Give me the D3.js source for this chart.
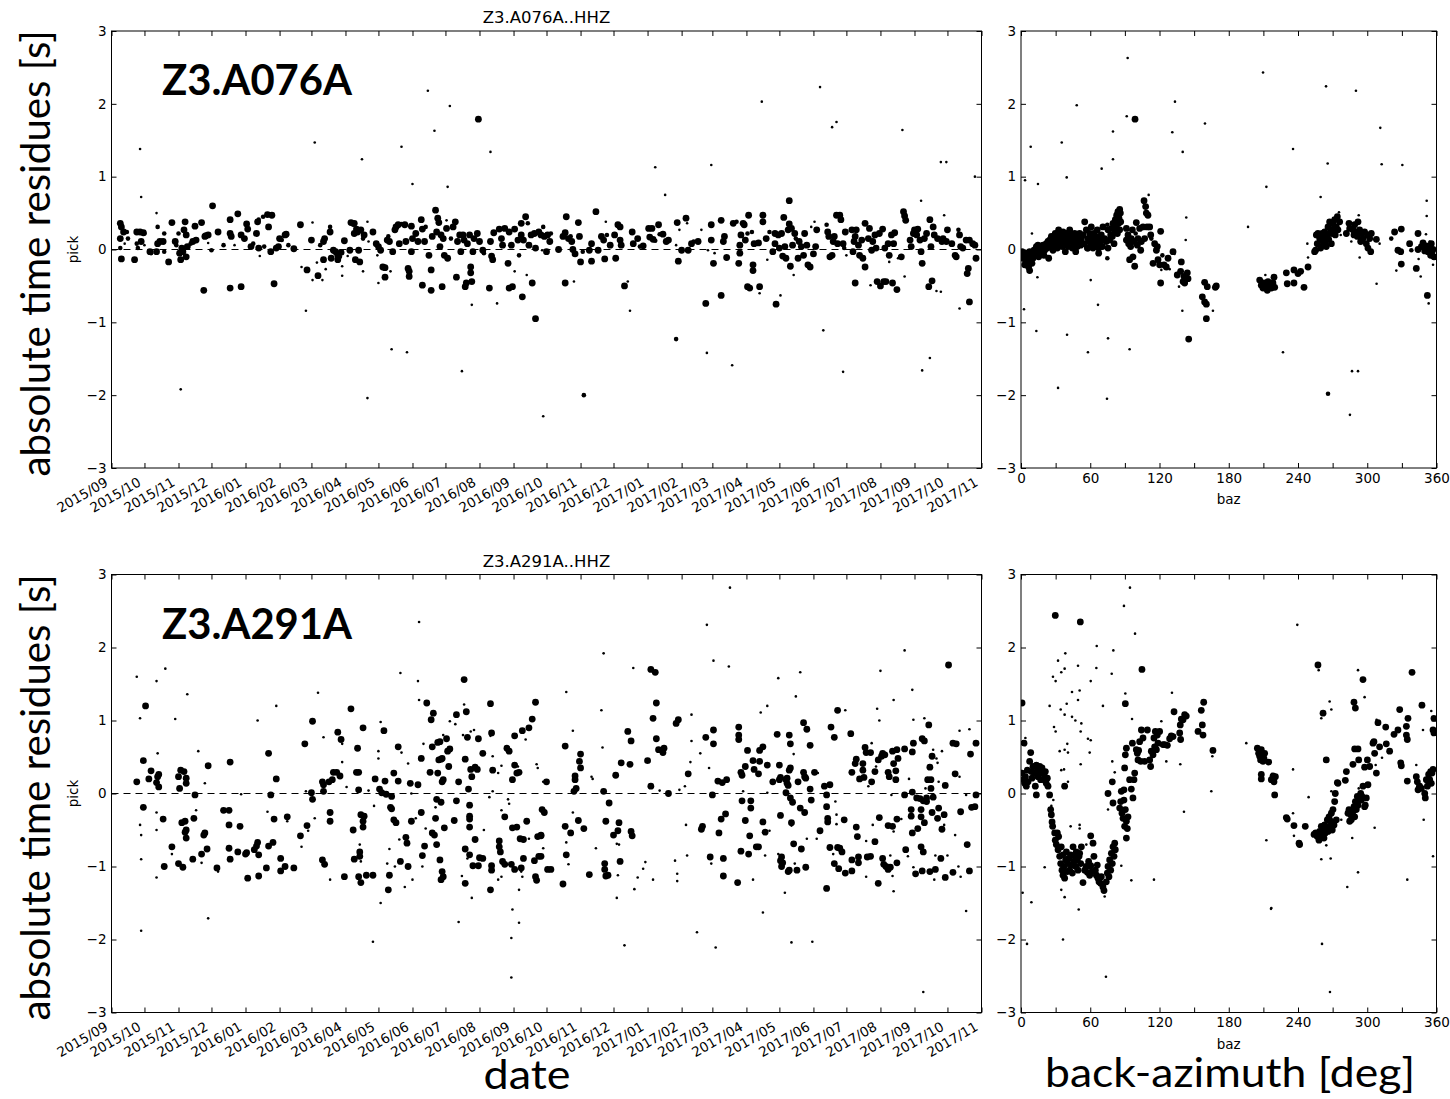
<!DOCTYPE html>
<html lang="en">
<head>
<meta charset="UTF-8" />
<title>pick residues Z3.A076A / Z3.A291A</title>
<style>
  body { margin: 0; background: #fff; }
  #container { width: 1450px; height: 1099px; }
</style>
</head>
<body>
<div id="container"></div>
<script src="https://cdnjs.cloudflare.com/ajax/libs/d3/7.8.5/d3.min.js"></script>
<script>
// ---- data ----
const stations = ["Z3.A076A", "Z3.A291A"];
const channels = ["Z3.A076A..HHZ", "Z3.A291A..HHZ"];
const startDay = "2015-09-01", endDay = "2017-11-01";
const resTicks = [-3, -2, -1, 0, 1, 2, 3];
const bazTicks = [0, 30, 60, 90, 120, 150, 180, 210, 240, 270, 300, 330, 360];

// [days since startDay, residue (s), marker class 1..3]
const a076Date = [
[8,.36,3],[9,.31,3],[11,.24,3],[14,.24,2],[8,.15,3],[8,.02,2],[9,-.13,3],[12,.08,1],[15,.15,2],[21,-.14,3],[23,.24,3],[23,.08,2],[24,.02,2],[26,.24,3],[27,.72,1],[27,.11,3],[29,.23,3],[30,.22,2],[30,.06,1],[35,-.03,3],[36,-.05,2],[41,.5,1],[42,.31,2],[42,.08,3],[41,-.03,3],[44,.11,3],[47,.11,3],[48,.22,2],[48,-.03,2],[52,-.17,3],[55,.37,3],[58,.11,3],[59,.06,2],[61,.22,2],[62,-.05,3],[63,-.14,3],[64,.02,3],[65,-.03,3],[66,.27,3],[67,.38,3],[68,.2,3],[68,-.1,3],[69,.04,3],[72,.08,2],[74,.11,3],[76,.32,3],[77,.13,3],[82,.37,3],[84,-.56,3],[85,.18,3],[86,.19,3],[88,.2,3],[88,.09,1],[91,-.01,2],[92,.6,3],[97,.24,3],[102,.06,2],[108,.41,3],[108,.22,3],[109,.18,3],[108,-.53,3],[112,.06,1],[115,.49,3],[118,.2,3],[118,-.51,3],[121,.15,3],[123,.35,3],[124,.28,3],[127,.04,3],[129,.08,2],[132,.22,3],[133,.38,3],[134,.41,2],[134,.02,3],[135,-.09,1],[138,.45,2],[139,.04,2],[142,.48,3],[143,.31,3],[145,-.03,3],[146,.47,3],[148,-.47,3],[150,.02,3],[152,.04,3],[153,.15,3],[155,.13,2],[158,.2,3],[159,.21,3],[161,.06,2],[166,.01,3],[172,.34,3],[173,-.24,1],[177,-.84,1],[178,-.28,3],[182,.13,3],[183,.37,1],[183,-.42,1],[187,-.18,1],[188,-.36,3],[192,-.42,1],[190,.06,2],[193,.11,3],[193,-.14,3],[194,.15,3],[195,-.27,1],[199,.24,3],[199,.31,2],[200,-.12,3],[202,-.01,3],[204,-.03,3],[206,-.08,3],[206,-.14,3],[208,-.1,2],[209,-.04,3],[210,-.23,1],[210,-.36,1],[212,.12,3],[215,-.09,1],[217,-.01,3],[218,.37,3],[220,.34,2],[221,.36,3],[221,.22,3],[222,-.14,3],[223,.28,3],[224,.24,3],[225,-.01,3],[226,-.17,3],[227,.27,3],[229,.15,2],[229,-.3,1],[230,.2,3],[233,.38,1],[234,.11,1],[238,.24,3],[241,.08,3],[242,-.08,1],[243,.04,3],[243,-.46,1],[245,-.01,3],[247,-.24,3],[249,-.25,3],[249,-.38,3],[251,.13,3],[252,.18,2],[253,.11,3],[254,-.3,1],[256,-.03,3],[258,.27,3],[259,.31,3],[261,.34,3],[262,.08,3],[264,.35,2],[267,.34,3],[268,.11,3],[270,-.26,3],[271,-.3,3],[271,-.37,3],[273,-.03,3],[273,.32,3],[274,.9,1],[274,.15,3],[277,.22,3],[279,.11,3],[282,.41,3],[283,.28,3],[283,-.49,3],[285,.11,3],[286,.31,2],[289,-.08,3],[291,-.28,3],[291,-.56,3],[292,.18,3],[295,.54,3],[296,.24,3],[297,.43,3],[298,.37,3],[299,.04,3],[300,.2,3],[302,.15,3],[301,-.51,3],[303,-.08,3],[305,.4,1],[305,.29,3],[306,.86,1],[306,-.12,3],[309,.15,2],[311,.31,3],[313,.38,3],[314,-.38,3],[315,.11,3],[317,.2,3],[318,-.03,3],[320,.2,3],[321,.13,3],[322,-.51,3],[323,-.46,3],[324,.08,3],[326,.2,3],[327,-.32,3],[327,-.24,3],[328,-.44,3],[328,-.76,1],[329,-.03,3],[330,.15,3],[333,.22,3],[335,.11,3],[338,-.01,3],[339,-.05,2],[344,-.53,3],[345,.11,3],[346,-.09,3],[347,-.14,3],[348,.23,3],[351,-.74,1],[353,.28,3],[355,.15,3],[356,.06,3],[358,.29,3],[361,-.19,3],[362,.24,3],[362,-.53,3],[364,.06,3],[365,-.51,3],[367,.28,3],[367,-.3,1],[370,.13,3],[371,-.08,2],[373,.2,3],[373,.36,3],[374,-.65,3],[375,.13,3],[377,.45,3],[378,-.35,1],[379,.36,2],[380,.06,3],[382,.2,3],[383,-.46,3],[385,.22,3],[386,-.95,3],[386,.02,3],[389,.24,3],[391,.2,3],[392,-.01,1],
[393,.31,2],[394,.18,3],[397,.2,3],[399,.11,3],[400,.22,2],[396,-.03,3],[407,0,3],[411,.18,3],[413,.23,3],[414,.45,3],[413,-.46,3],[416,.15,3],[419,.11,3],[418,.18,2],[420,0,3],[422,-.06,3],[421,-.44,1],[425,.37,3],[426,.18,3],[427,-.17,3],[429,-.03,2],[435,-.01,3],[437,.08,3],[437,-.16,3],[441,.52,3],[443,-.01,3],[446,.18,3],[448,.13,3],[449,-.13,3],[450,.38,1],[451,.2,2],[454,.06,3],[458,.2,3],[459,-.12,3],[461,.34,3],[463,.31,3],[463,.13,3],[464,.06,3],[467,-.5,3],[470,-.44,1],[472,-.84,1],[474,.24,3],[475,.08,3],[479,.15,3],[481,.04,2],[484,.05,3],[489,.29,3],[490,.17,3],[492,.29,3],[493,.14,3],[495,.12,2],[498,.34,3],[499,.21,2],[502,.21,3],[504,.75,1],[505,.11,3],[507,.13,3],[514,.06,1],[515,.37,3],[516,-.16,3],[517,.27,1],[519,-.01,3],[523,.43,3],[524,.36,1],[525,-.01,3],[528,.08,3],[530,.11,2],[534,.11,3],[537,.27,1],[541,-.74,3],[543,-.01,1],[546,.34,3],[546,.13,3],[548,-.19,3],[549,-.05,1],[555,.4,3],[555,-.63,3],[557,.11,3],[558,.18,3],[560,-.11,3],[566,.36,3],[569,.38,2],[571,-.19,3],[572,-.05,3],[572,.06,3],[573,.2,3],[575,.36,3],[576,.34,3],[577,.13,3],[579,.22,2],[579,-.51,3],[580,.47,3],[581,-.53,3],[583,.24,2],[584,-.21,3],[584,-.29,3],[585,.08,3],[589,.09,3],[590,-.6,1],[590,-.51,3],[593,.47,3],[593,.38,3],[596,.15,3],[597,-.14,1],[599,.24,2],[602,-.03,3],[604,.22,3],[604,.08,3],[605,-.75,3],[607,.2,3],[608,.02,3],[609,-.63,1],[610,.22,3],[611,-.09,3],[612,.44,3],[613,.04,3],[614,-.12,3],[616,.27,3],[617,.35,3],[617,.67,3],[618,-.23,3],[619,.29,3],[620,.06,3],[621,-.35,1],[622,.22,3],[623,.15,2],[625,-.12,3],[626,.11,3],[628,.04,3],[630,-.08,3],[631,.22,3],[633,.06,3],[634,-.21,3],[636,-.24,3],[637,.31,1],[639,-.06,3],[640,.38,1],[641,.04,3],[642,.27,3],[651,.34,2],[652,.24,3],[653,.18,3],[654,-.1,3],[656,-.08,3],[657,.11,3],[658,.18,3],[660,.47,3],[661,.08,3],[663,.47,3],[664,.41,3],[666,.08,3],[667,.02,2],[668,.24,3],[669,-.08,1],[674,.27,3],[675,-.03,3],[676,.11,3],[677,.18,3],[677,-.46,3],[678,.27,3],[680,.06,3],[681,-.08,3],[683,.13,3],[684,-.12,3],[686,.36,3],[686,-.24,3],[689,.15,3],[690,.29,3],[691,-.49,1],[692,-.01,3],[693,.11,3],[695,.2,3],[696,.02,3],[697,-.44,3],[699,.22,3],[700,-.5,3],[702,.28,3],[703,-.44,3],[704,.02,3],[705,-.44,3],[707,.08,3],[708,-.08,3],[708,-.17,1],[710,.2,3],[711,-.46,3],[712,.08,3],[713,.23,3],[715,-.55,3],[716,-.12,1],[719,-.1,3],[721,.52,3],[722,.46,3],[723,.4,3],[722,-.37,1],[727,.13,3],[728,.04,3],[730,.22,3],[731,.27,3],[733,.2,3],[734,.28,3],[736,.13,3],[737,.67,1],[737,-.03,3],[738,-.19,3],[740,.15,3],[742,.22,3],[744,-.51,3],[745,.41,3],[746,.04,3],[747,-.43,3],[748,.31,3],[749,.2,3],[751,-.57,1],[752,.15,3],[755,-.58,1],[756,.11,3],[757,.15,3],[758,.47,1],[760,.11,3],[761,.27,3],[765,.08,3],[768,-.08,3],[769,-.1,3],[771,.27,2],[772,.2,3],[772,-.81,1],[773,.04,3],[775,.02,3],[778,.13,3],[779,-.33,3],[780,-.26,3],[781,-.72,3],[781,.13,3],[784,.08,3],[786,.06,3],[787,-.12,3],
[26,1.38,1],[185,1.47,1],[228,1.24,1],[264,1.41,1],[288,2.18,1],[294,1.63,1],[308,1.97,1],[334,1.79,3],[345,1.34,1],[63,-1.92,1],[233,-2.04,1],[393,-2.29,1],[430,-2,2],[255,-1.37,1],[269,-1.41,1],[319,-1.67,1],[514,-1.23,2],[542,-1.42,1],[565,-1.59,1],[648,-1.11,1],[666,-1.68,1],[738,-1.66,1],[745,-1.49,1],[495,1.13,1],[546,1.16,1],[592,2.03,1],[656,1.68,1],[660,1.75,1],[645,2.23,1],[720,1.64,1],[755,1.2,1],[760,1.2,1],[786,1,1]
];

// [back-azimuth (deg), residue (s), marker class]
const a076Baz = [
[0.9,-.03,3],[1.7,-.12,3],[2.6,-.08,3],[3.2,-.21,3],[3.8,-.14,3],[4.6,-.05,3],[5.5,-.17,3],[6.1,-.1,3],[6.6,-.24,3],[7.5,-.03,3],[7.5,-.29,3],[8.4,-.14,3],[9,-.08,3],[9.5,-.19,3],[10.4,-.12,3],[11.3,-.01,3],[11.8,-.09,3],[13.3,.04,3],[14.2,-.03,3],[14.7,.06,3],[15.3,-.1,3],[16.2,-.01,3],[17,.04,3],[17.6,-.04,3],[18.2,.02,2],[19.1,.06,3],[19.9,-.08,3],[20.5,-.01,3],[21.9,.08,3],[22.8,.02,3],[23.4,.11,3],[24,-.12,3],[24.8,.13,3],[25.7,.04,3],[26.3,.18,3],[27.1,.08,3],[27.7,-.01,3],[28.6,.15,3],[29.2,.06,3],[29.7,.22,3],[30.6,.11,3],[31.5,.02,3],[32.1,.18,3],[32.6,.27,3],[33.5,.08,3],[34.4,.2,3],[34.9,.13,3],[35.8,.04,3],[36.4,.24,3],[37.3,.15,3],[37.8,.08,3],[38.4,-.03,3],[39.3,.22,3],[40.1,.13,3],[40.7,.04,3],[41.3,.18,3],[42.2,.27,3],[43,.11,3],[43.6,.2,3],[44.5,.02,3],[45.1,.15,3],[45.9,.08,3],[46.5,.22,3],[47.4,-.03,3],[47.9,.13,3],[48.8,.04,3],[49.4,.18,3],[50.3,.11,3],[50.8,.22,3],[51.7,.06,3],[52.3,.15,3],[53.7,.2,3],[54.6,.08,3],[55.2,.38,3],[56.6,.27,3],[57.5,.02,3],[58,.15,3],[58.9,.11,3],[59.5,.22,3],[60.4,.06,3],[60.9,.31,3],[61.5,.15,3],[62.4,.11,3],[63.2,.22,3],[63.8,.04,3],[64.7,.18,3],[65.3,.13,3],[66.1,.27,3],[66.7,.08,3],[67.3,-.05,3],[68.2,.18,3],[69,.11,3],[69.6,.2,3],[70.5,.04,3],[71,.31,3],[71.9,.13,3],[72.5,.15,3],[73.9,.11,3],[74.8,.34,2],[74.8,-.12,2],[75.4,.27,3],[76.8,.13,3],[77.7,.2,3],[78.3,.29,3],[79.1,.18,3],[79.7,.36,3],[80.6,.08,3],[81.2,.24,3],[81.7,.41,3],[82.6,.31,3],[82.9,.47,3],[83.5,.22,3],[84,.52,3],[84.6,.36,3],[84.9,.43,3],[85.5,.55,3],[85.5,.27,3],[86.1,.5,3],[86.4,.38,3],[75.4,.02,3],[67.3,.02,3],[62.4,.02,3],[58,.02,3],
[91.3,.29,3],[91.3,.13,3],[92.7,.2,3],[93.3,.08,3],[94.1,-.14,3],[95,.04,3],[95.6,.15,3],[96.5,.27,3],[97,-.1,3],[97.9,.11,3],[98.5,-.23,3],[99.3,.22,2],[99.9,.37,3],[100.8,.06,3],[101.4,.15,3],[102.8,.29,3],[103.7,-.01,3],[104.3,.11,3],[105.7,.31,3],[106.6,.67,3],[107.1,.15,3],[108,.59,3],[108.6,.5,3],[109.2,.31,3],[110,.47,3],[110.6,.75,1],[111.5,.31,3],[112.4,.2,3],[112.9,.15,2],[114.4,-.19,3],[115.8,.08,3],[117.3,-.01,3],[118.1,.04,3],[118.7,-.14,3],[120.1,-.21,3],[121,-.46,3],[121,.25,3],[121.6,-.28,1],[122.5,-.08,2],[123.9,-.21,3],[125.9,-.24,3],[127.4,-.12,3],[128.8,-.27,1],[131.7,-.03,3],[133.1,-.06,1],[135.4,-.35,3],[136.9,-.51,1],[138.3,-.3,3],[138.9,-.17,3],[139.8,-.84,1],[140.4,-.44,3],[141.2,-.37,3],[141.8,-.46,3],[142.7,.13,1],[143.2,.44,1],[144.1,-.32,3],[144.7,-.4,3],[145.3,-1.23,3],[157.1,-.65,3],[159.1,-.45,3],[159.1,-.72,3],[160.6,-.75,3],[160.6,-.95,3],[161.4,-.51,3],[166.3,-.84,1],[168.4,-.52,3],[169.2,-.5,3],
[14.7,.9,1],[9.5,.22,1],[14.2,-.38,1],[60.4,-.42,1],[66.7,-.76,1],[2.6,-.82,1],[13.3,-1.12,1],[39.9,-1.17,1],[75.4,-1.22,1],[94.1,-1.37,1],[196.7,.31,1],[212.6,.86,1],[259.6,.72,1],[351.5,.67,1],[351.5,.46,1],[350.9,.21,1],[308.1,-.47,1],[293.4,-.11,1],[303.5,-.05,1],
[206.8,-.42,3],[208.2,-.49,3],[209.7,-.53,3],[210.5,-.46,3],[211.7,-.35,1],[212.6,-.5,3],[213.4,-.56,3],[214,-.44,3],[215.4,-.51,3],[216.9,-.53,3],[218.3,-.46,3],[219.2,-.38,3],[219.8,-.52,3],[229.9,-.32,3],[230.7,-.47,3],[236.5,-.28,3],[236.5,-.46,3],[240,-.33,3],[242.3,-.3,3],[245.2,-.52,3],[248.7,-.24,3],[248.7,-.11,1],[248.1,.08,1],[254.4,-.03,3],[255.3,-.01,3],[255.9,.2,3],[256.7,.08,3],[257.3,.22,3],[258.8,.15,3],[259.6,.02,3],[260.2,.13,3],[261.1,.22,3],[261.7,.06,3],[262.5,.18,3],[263.1,.24,3],[263.7,.11,3],[264.5,.04,3],[265.4,.2,3],[266,.31,3],[266.6,.14,3],[267.4,.38,3],[268.3,.27,3],[268.9,.08,3],[269.5,.22,3],[270.3,.36,3],[271.2,.29,3],[271.8,.41,3],[272.3,.2,3],[273.2,.31,3],[274.1,.45,3],[274.6,.27,3],[275.5,.51,1],[276.1,.38,3],[277,.2,1],
[281.9,.22,3],[283.3,.27,1],[284.2,.36,3],[284.8,.29,3],[286.2,.11,1],[287.6,.27,3],[288.5,.2,3],[289.1,.34,3],[290.5,.24,3],[291.4,.18,3],[292,.38,3],[292.6,.47,1],[293.4,.27,3],[294.3,.11,3],[294.9,.22,3],[296.3,.15,3],[297.7,.24,3],[299.2,.08,3],[300.1,.2,3],[300.6,.02,3],[302.1,.15,3],[303,-.03,3],[303.5,.22,3],[307.9,.14,3],[310.7,.08,1],
[320.8,.15,2],[323.7,.24,3],[329.5,.28,3],[326.6,-.01,3],[325.2,-.29,1],[329,-.03,3],[329.5,-.2,3],[336.7,.08,3],[338.2,-.01,2],[342.5,-.26,3],[344,.22,3],[344,0,3],[344.5,-.13,1],[346.3,-.37,1],[346.9,.04,3],[348.3,.09,3],[349.8,-.02,3],[351.2,.05,3],[352.1,-.63,3],[353.2,-.74,1],[352.6,-.03,3],[354.1,.02,3],[354.9,-.08,3],[355.5,.08,3],[356.1,-.04,3],[357,0,3],[357.8,-.1,3],[357,-.21,1],[354.1,.11,1],
[8.4,1.41,1],[35.3,1.47,1],[39.6,.99,1],[48.3,1.98,1],[69.9,1.11,1],[79.7,1.62,1],[79.7,1.24,1],[92.4,2.63,1],[91.6,1.83,1],[98.8,1.79,3],[131.1,1.61,1],[133.4,2.03,1],[140.1,1.34,1],[159.4,1.73,1],[209.7,2.43,1],[235.7,1.38,1],[264.3,2.24,1],[265.7,1.18,1],[290.2,2.18,1],[311.3,1.67,1],[312.5,1.17,1],[330.4,1.16,1],[3.5,.95,1],
[32.1,-1.9,1],[74.5,-2.05,1],[58,-1.41,1],[227,-1.41,1],[266,-1.98,2],[286.8,-1.67,1],[292,-1.67,1],[285,-2.27,1]
];

const a291Date = [
[23,.16,3],[23,1.6,1],[26,1.03,1],[27,-1.88,1],[27,-.57,1],[26,-.43,1],[27,-.9,1],[29,-.19,3],[29,.45,3],[31,1.2,3],[34,.2,3],[36,.31,3],[41,1.54,1],[41,.15,3],[42,.23,3],[43,.09,3],[43,.26,3],[42,.55,1],[41,-.26,1],[41,-.5,1],[41,-1.15,1],[47,-.35,3],[48,-1,3],[49,1.71,1],[55,-.73,3],[55,-.83,1],[58,1.02,1],[61,-.96,3],[61,.23,3],[62,.07,3],[63,.32,3],[64,-.4,3],[65,-1.01,3],[66,.3,3],[67,-.38,3],[68,-.5,3],[68,.21,3],[68,.14,3],[68,-.61,3],[69,1.36,1],[67,-.53,3],[74,-.9,3],[75,-.34,3],[76,-.02,3],[77,-.23,1],[79,.58,1],[82,-.83,3],[82,-.95,1],[84,-.57,3],[85,-.54,3],[85,.14,1],[87,-.76,3],[88,.38,3],[88,-1.71,1],[96,-1.02,3],[97,-1.07,1],[102,-.23,3],[107,-.23,3],[107,-.43,3],[108,.43,3],[107,-.75,3],[108,-.9,3],[115,-.8,3],[117,-.45,3],[118,-.01,1],[122,-.83,3],[123,-.81,3],[124,-1.16,3],[130,-.77,3],[132,-.72,3],[133,-.67,3],[134,-.84,3],[134,-1.13,3],[133,1,1],[141,-1.02,3],[142,-.25,1],[143,.55,3],[143,-.72,3],[145,-.02,3],[147,-.67,3],[148,-.35,3],[150,1.2,1],[150,.2,3],[154,-.89,3],[154,-1.06,3],[158,-1,3],[160,-.32,3],[160,-.38,1],[166,-1.02,3],[172,-.58,3],[173,-.73,1],[176,.68,3],[177,.03,1],[178,-.44,3],[179,-.51,1],[182,.01,3],[183,-.08,3],[183,.99,3],[185,-.34,1],[188,1.38,1],[192,.16,3],[193,.12,3],[193,.03,3],[193,.77,1],[192,-.91,3],[194,-.97,3],[198,.16,3],[199,-.26,3],[199,-.38,3],[199,-1.18,1],[201,.19,3],[202,.29,3],[206,.84,3],[205,.29,3],[208,.24,3],[209,.74,3],[210,.68,1],[210,.43,1],[212,-1.14,3],[214,.09,1],[218,1.16,3],[220,-.5,3],[221,-.9,3],[221,-.5,1],[223,.29,3],[224,.62,3],[225,.29,3],[225,.05,3],[226,-.7,1],[226,-.8,3],[226,-.86,3],[225,-1.14,3],[227,-.93,1],[227,-1.22,3],[227,-.29,3],[229,-.38,3],[230,-.31,3],[229,-.46,3],[229,.9,3],[232,-1.12,3],[234,.04,1],[238,-1.12,3],[238,-2.03,1],[239,-.17,1],[240,.2,3],[243,.58,1],[243,.48,1],[244,.06,3],[245,.98,1],[246,.01,3],[248,.86,3],[249,.17,3],[250,-.01,3],[253,-.76,1],[251,-.96,1],[253,-1.12,3],[252,-1.32,3],[245,-1.5,1],[254,-.19,3],[255,-.21,3],[255,-.04,3],[257,.28,3],[257,-.36,3],[259,-.4,3],[258,-1,1],[261,.17,3],[261,.64,3],[262,-.63,1],[263,-.93,3],[263,1.65,1],[264,.56,1],[267,-1.28,1],[268,-.6,3],[269,-.68,3],[270,.41,1],[270,-1,3],[272,.14,3],[273,0,1],[273,-.38,3],[274,-1.18,1],[277,-.34,1],[279,.12,3],[279,1.54,1],[280,1.28,1],[280,2.35,1],[282,.48,3],[282,-.26,3],[283,-1,1],[283,-.85,3],[284,.68,1],[285,-.72,3],[287,1.24,3],[286,-.48,1],[290,.29,3],[291,1.01,3],[292,.64,3],[293,1.1,3],[292,-.54,3],[294,-.57,3],[295,-.34,3],[295,-.19,1],[296,-.7,3],[296,-.08,3],[297,.28,3],[297,.7,3],[298,.46,3],[299,-.91,3],[299,.71,3],[301,.16,3],[301,-1.07,3],[302,.19,3],[302,.8,1],[302,-1.14,3],[300,-1.18,3],[300,-.12,3],[300,.47,3],[301,.48,3],[303,-.47,3],[305,.75,3],[306,.58,3],[307,.37,3],[308,.61,3],[308,.99,1],[312,-.37,3],[313,.95,1],[314,1.08,3],[314,-.1,3],[316,.16,3],[316,-1.76,1],[319,-1.13,1],[320,.8,1],[321,1.22,1],[321,1.56,3],[322,.47,3],[322,-.76,3],[322,-1.23,3],[323,1.12,3],[324,.77,3],[324,-.89,1],[325,.06,3],[326,-.16,3],[326,-.31,3],[326,-.35,3],[326,-.46,3],[326,-.84,3],[327,.33,3],[327,.85,1],[328,.23,3],[329,-.99,3],[328,-1.43,1],[330,.87,1],[331,-.63,3],[331,.36,3],[333,.33,3],[334,.75,3],[334,-.99,3],[335,-.88,3],[338,-.89,3],[338,.55,3],[339,-.5,1],[344,-.05,1],[345,1.23,3],[345,.79,1],[346,.83,3],[346,-.99,3],[345,-1.32,3],[346,-1.05,3],[347,.32,3],[347,.03,1],[347,.51,1],[352,.28,1],[352,-1.18,1],[353,-.65,3],[353,-.73,3],[354,-.8,3],[355,-.23,1],[355,.38,1],[355,-1.14,1],[356,-.93,3],[358,-.32,3],[358,-.97,3],[360,.62,3],[361,-.08,1],[362,.58,3],[362,-.14,1],[364,-.97,3],[365,-.47,3],[365,.19,3],[365,-1.59,1],[364,-1.98,1],[364,-2.52,1],[367,.79,3],[367,.39,3],[367,-1.04,3],[369,-.46,3],[369,.28,3],[370,.37,1],[371,.29,3],[371,-1.77,1],[371,-1.32,1],[372,-.62,3],[373,-1.02,3],[373,-1.07,1],[374,-1.14,1],[374,.86,3],[375,-.63,3],[375,-.89,3],[377,.74,1],[378,-.38,3],[380,.9,3],[380,-.62,1],[383,1.02,3],[385,-.92,3],[386,1.25,3],[386,-1.14,3],[387,-1.19,3],[387,.4,1],[388,.35,1],[388,-.59,3],[389,-.86,3],[392,-.22,3],[393,.16,1],[391,-.57,3],
[396,.16,3],[394,-.26,3],[391,-.58,3],[391,-.86,3],[393,-.75,1],[393,-.21,1],[397,-1.04,3],[400,-1.04,3],[411,-1.24,3],[413,.65,3],[413,-.45,3],[414,1.39,1],[414,-.67,1],[414,-.84,3],[416,-.97,1],[418,-.54,3],[420,.86,1],[420,-.26,1],[421,.03,3],[422,.24,3],[422,.19,3],[423,.07,3],[425,-.37,3],[426,.44,3],[427,.35,3],[427,.54,3],[430,-.48,3],[435,-1.11,3],[437,.23,1],[438,.2,1],[441,-.75,1],[446,1.14,1],[447,.63,1],[448,1.92,1],[448,.03,3],[449,-.96,3],[449,-1.04,3],[450,-1.13,3],[450,-.38,3],[452,-1.12,3],[453,-.13,3],[457,-.57,3],[459,.25,3],[460,-1.43,1],[460,-.69,1],[461,-1.12,1],[461,-.51,3],[462,-.4,3],[462,-.7,1],[463,-.93,3],[464,.42,3],[467,-2.08,1],[470,.85,3],[473,.72,3],[473,-.52,3],[474,-.58,3],[472,.4,3],[475,1.72,1],[476,-1.31,1],[479,-1.15,1],[484,-1.03,1],[486,-.94,1],[488,.45,3],[491,.1,3],[491,1.7,3],[493,-1.18,1],[493,1.03,3],[495,1.66,3],[496,1.24,3],[496,.75,3],[498,.6,3],[499,.04,1],[502,.56,3],[503,.62,3],[507,0,3],[513,-.92,1],[514,.96,3],[515,-1.1,1],[515,-1.2,1],[516,1.01,3],[517,.05,1],[522,.1,1],[523,-.43,1],[524,-.85,1],[525,.27,3],[527,.43,1],[528,.72,1],[528,1.08,1],[533,-1.9,1],[536,.55,1],[537,-.49,3],[538,-.45,3],[541,.77,3],[542,2.31,1],[544,.35,1],[545,-.87,3],[546,-.96,1],[547,-.02,3],[548,.87,3],[548,.68,3],[548,1.82,1],[550,-2.11,1],[552,.17,3],[553,-.54,3],[555,-.35,3],[556,.15,3],[557,-1.13,3],[557,-.89,3],[559,-.28,3],[560,.19,3],[562,1.74,1],[563,2.82,1],[570,-1.22,3],[571,.74,3],[571,.8,3],[571,.91,3],[573,-.79,3],[573,.29,3],[574,.25,3],[575,.03,1],[574,-.1,3],[577,.37,3],[577,-.37,3],[579,.59,3],[580,-.83,3],[581,-.58,3],[582,-.1,3],[582,-.2,3],[584,.45,3],[584,-1.18,1],[585,.33,3],[587,-.73,3],[589,-.73,3],[589,.27,3],[590,.59,3],[590,.44,3],[591,1.11,1],[593,.64,3],[593,-.39,3],[593,-1.63,1],[595,-.85,1],[595,-.53,3],[597,.39,3],[597,1.2,1],[597,.01,1],[599,-.51,1],[602,.16,3],[606,.81,3],[607,1.58,1],[607,-.83,1],[608,.39,3],[608,.19,3],[609,.22,3],[609,-.3,3],[609,-.92,3],[610,-1,3],[610,-.87,3],[611,-.95,3],[613,-1.36,1],[614,.01,3],[614,.19,3],[615,.14,3],[615,.21,3],[616,.11,3],[616,-1.07,3],[617,.8,3],[617,.32,3],[617,-1.05,3],[618,.68,3],[618,.35,3],[618,-.06,3],[619,-.4,3],[619,-.44,1],[619,-2.04,1],[620,-.12,3],[621,.54,1],[621,-.69,3],[622,-.96,1],[623,1.33,1],[624,-1.05,3],[625,.16,3],[627,1.66,1],[627,-.2,3],[628,-.76,3],[630,.29,3],[630,.97,3],[631,.23,3],[631,-.26,3],[632,.21,3],[632,-1.01,3],[633,.88,3],[633,-.62,1],[636,.06,3],[636,.66,3],[637,-.09,3],[638,-2.03,1],[640,.29,3],[642,-.62,1],[643,.28,1],[645,-.51,3],[649,.1,3],[651,-.02,3],[651,-.18,3],[652,-.34,3],[652,-.39,3],[651,-1.3,3],[654,.12,3],[654,-.74,3],[655,.91,3],[657,-.83,1],[658,.77,3],[658,-.96,3],[659,-.11,1],[660,-.42,1],[660,-.29,1],[661,1.14,3],[661,-.74,3],[662,-1.03,3],[663,-.75,3],[665,-.8,3],[667,-.36,3],[668,-1.09,3],[668,1.14,1],[673,.82,3],[674,.29,3],[674,-.91,3],[674,-1.06,3],[677,.41,3],[678,.47,3],[678,-.46,3],[679,-.59,3],[680,-.95,3],[680,-.87,3],[681,.2,3],[684,.32,3],[684,.41,3],[685,.22,3],[686,.63,3],[687,.56,3],[687,-.65,1],[687,-1.14,1],[688,-.87,3],[689,.1,1],[691,-.86,3],[691,.56,3],[692,.16,3],[692,.69,1],[693,-.43,1],[695,.3,3],[695,-.66,3],[696,.37,1],[697,1.16,1],[698,-1.23,3],[698,.46,3],[699,-.33,3],[699,1,1],[700,1.68,1],[701,.51,3],[702,.55,3],[704,.53,3],[702,-.89,3],[703,-.97,3],[705,-1,3],[707,.29,3],[707,-1.04,3],[708,.23,3],[707,-.44,3],[709,-1.01,3],[709,-.85,1],[710,-.02,1],[711,-1.13,1],[711,-.45,3],[711,.58,3],[712,.41,3],[712,1.28,1],[712,-1.34,1],[712,-.52,1],[714,.31,3],[714,.19,3],[715,-.95,3],[715,-.35,3],[715,.6,3],[716,.48,3],[719,-.35,1],[722,.61,3],[722,1.96,1],[722,-.02,3],[723,-.77,3],[725,-.86,1],[726,.2,1],[728,-.22,3],[728,-.31,3],[729,1.42,1],[729,.02,3],[729,-.54,3],[729,.57,3],[730,.69,3],[730,1.01,1],[730,-1.01,1],[732,-1.1,3],[733,-.06,3],[734,-.48,3],[736,-.07,3],[737,-.73,3],[737,-.22,3],[737,-.32,3],[738,-1.06,3],[738,.75,3],[739,-.1,3],[739,-.8,3],[740,.72,3],[740,1.03,1],[740,-.4,3],[741,.07,1],[742,-.06,3],[742,-.11,3],[743,.19,3],[744,.94,3],[745,.36,3],[745,-1.07,3],[746,.19,3],[746,.07,3],[747,-.26,3],[747,.51,3],[748,.6,1],[748,-.05,3],[749,-1.18,1],[750,-1.04,3],[750,-.85,1],[751,.48,1],[752,.42,1],[752,-.34,3],[753,.16,1],[753,-.2,3],[755,-.89,3],[756,.58,1],[756,-.49,3],[758,-.43,1],[758,-.29,3],[759,.11,3],[759,-1.15,3],[761,-.85,1],[762,1.76,3],[766,-1.08,3],[766,.69,3],[768,.27,3],[768,-.57,1],[769,.68,3],[771,-1,1],[772,.86,1],[772,.23,1],[773,-.25,3],[773,-1.14,1],[778,-1.61,1],[778,-.02,1],[779,-.7,3],[781,-1.06,3],[782,.54,3],[783,-.19,3],[781,.88,1],[786,-.18,3],[787,.69,3],[787,-.02,3],[739,-2.72,1]
];

const a291Baz = [
[0.9,.28,3],[1.7,.19,3],[2.6,.69,3],[3.2,.14,3],[3.8,.23,3],[4.6,.1,3],[5.5,.32,3],[6.1,.16,3],[7.5,.44,3],[8.4,.56,3],[9,.3,3],[9.5,.21,3],[10.4,.37,3],[11.8,.28,3],[12.4,.1,3],[13.3,-.02,3],[13.3,.39,3],[14.2,.32,3],[14.7,.23,3],[15.3,.3,3],[16.2,.37,3],[17,.19,3],[17.6,.28,3],[18.2,.35,3],[19.1,.3,3],[19.9,.19,3],[20.5,.23,3],[21.1,.3,3],[21.9,.14,3],[22.8,.21,3],[23.4,.1,3],[24.8,-.02,3],[0.9,1.24,3],[1.4,-1.36,1],[3.8,.76,1],[9,-1.49,1],[20.5,-1.01,1],
[25.7,-.22,3],[26.3,-.29,3],[26.9,-.39,3],[27.4,-.45,3],[26.3,-.17,1],[28,-.09,1],[29.2,-.54,3],[29.7,-.64,3],[30.6,-.7,3],[31.5,-.54,3],[32.1,-.77,3],[32.6,-.59,3],[33.5,-.86,3],[34.4,-.96,3],[34.9,-.73,3],[35.5,-1.05,3],[36.4,-1.12,3],[36.4,-.84,3],[37.3,-1,3],[37.8,-1.16,3],[38.7,-.91,3],[39.3,-.8,3],[40.1,-1.07,3],[40.7,-.96,3],[41.3,-.89,3],[42.2,-1.05,3],[43,-.84,3],[43.6,-.98,3],[44.5,-1.09,3],[45.1,-.73,3],[45.9,-.93,3],[46.5,-.86,3],[47.4,-1,3],[47.9,-.8,3],[48.8,-.91,3],[49.4,-1.05,3],[50.3,-.86,3],[50.8,-.82,3],[51.7,-.96,3],[52.3,-.73,3],[53.7,-1.22,3],[55.2,-1.05,3],[56.6,-1,3],[57.5,-1.08,3],[58.6,-.93,3],[59.5,-1.12,3],[60.4,-.58,3],[60.4,-.99,3],[61.5,-1.07,3],[62.4,-.68,3],[63.2,-.86,3],[64.4,-1.05,3],[65.3,-1.12,3],[66.1,-.98,3],[66.7,-1.16,3],[67.6,-1.21,3],[69,-1.23,3],[69.6,-1.14,3],[71,-1.28,3],[71.9,-1.33,3],[72.5,-1.41,1],[73.9,-1.21,3],[74.8,-1.09,3],[75.4,-1,3],[76.2,-1.14,3],[76.8,-.91,3],[77.7,-1.05,3],[78.3,-.82,3],[79.1,-.96,3],[79.7,-.73,3],[80.6,-.86,3],[81.2,-.68,3],[81.7,-.77,3],[34.9,-1.32,1],[37.8,-1.42,1],[34.9,.32,1],[37.8,.1,3],[40.7,.16,1],[43,-.45,1],[50.8,-.43,1],[50.8,-.48,1],[50,-1.59,1],[56.6,-.7,1],[86.9,-.99,1],[95.6,-1.19,1],[115.2,-1.18,1],
[75.4,0,3],[75.4,-.22,1],[79.1,.44,1],[79.1,.16,3],[79.7,-.13,3],[81.2,.29,1],[85.5,-.2,3],[86.4,-.11,3],[86.9,.03,3],[87.5,-.27,3],[88.4,-.34,3],[89.2,-.09,3],[89.8,-.45,3],[90.4,-.22,3],[91.3,-.38,3],[91.3,-.61,3],[92.1,-.48,3],[92.7,-.32,3],[89.2,.05,3],[89.8,.35,3],[90.4,.53,3],[91.3,.62,3],[94.1,.19,3],[95.6,.06,3],[96.5,.69,3],[97,-.06,3],[97.9,.19,3],[98.5,.28,3],[99.9,.6,3],[100.8,.55,3],[101.4,.46,3],[101.9,.59,3],[102.8,.71,3],[103.7,.44,3],[104.3,.87,3],[105.7,.76,3],[107.1,.44,3],[109.5,.87,3],[111.5,.46,3],[112.3,.37,3],[112.9,.58,3],[114.4,.53,3],[115.2,.76,3],[115.8,.64,3],[116.4,.85,3],[117.3,.6,3],[118.1,.8,3],[118.7,.69,3],[120.1,.85,3],[121.6,.99,1],[123,.67,3],[124.5,.67,3],[125.9,.44,1],[126.8,.66,3],[128.8,.75,3],[130.2,.79,3],[131.7,.78,3],[132.6,1.12,3],[138,.94,3],[137.5,.83,3],[138.3,.74,3],[138.9,1.02,3],[140.4,1.01,3],[141.8,1.08,3],[143.2,1.06,3],[138,.4,1],[153.4,.85,3],[156.2,1.14,3],[157.1,.94,3],[157.7,.8,3],[158.3,1.25,3],[166.3,.59,3],[165.8,.51,1],[164.9,.03,1],[141.2,-.25,1],[195.2,.69,1],
[29.7,2.44,3],[51.4,2.35,3],[94.4,2.82,1],[89.2,2.57,1],[98.8,2.19,1],[65.6,2.02,1],[80,1.96,1],[32.1,1.82,1],[38.4,1.92,1],[27.7,1.6,1],[30,1.54,1],[34.9,1.66,1],[37.8,1.71,1],[49.4,1.75,1],[65.3,1.72,1],[78.6,1.64,1],[60.4,1.54,1],[104.8,1.7,3],[44.2,1.39,1],[50.8,1.41,1],[49.4,1.28,1],[24.8,1.2,1],[34.4,1.15,1],[39.6,1.23,1],[37.8,1.08,1],[44.2,1.05,1],[47.1,1,1],[52.3,.96,1],[51.7,.85,1],[28.6,.91,1],[30,.85,1],[33.5,.58,1],[37.8,.6,1],[40.1,.68,1],[40.7,.56,1],[37.3,.33,1],[51.7,.4,1],[58,.75,1],[60.4,.73,1],[59.5,.56,1],[71,1.2,1],[90.4,1.37,1],[90.4,1.23,3],[96.2,1.02,1],[130.8,1.38,1],[132.6,1.12,1],
[204.8,.62,3],[205.9,.55,3],[206.8,.51,3],[207.6,.46,3],[208.2,.6,3],[208.8,.53,3],[209.7,.44,3],[210.5,.48,3],[211.1,.55,3],[214.6,.43,3],[208.2,.26,3],[208.2,.2,3],[216.9,.19,3],[218.3,.24,3],[219.2,.16,3],[220.4,.23,3],[219.8,-.02,3],[212.6,-.64,1],[216.9,-1.57,1],[239.4,2.31,1],[235.7,.33,1],
[229.9,-.33,3],[230.7,-.35,3],[235.7,-.27,1],[236.5,-.44,3],[236.5,-.58,1],[240.9,-.68,3],[241.4,-.7,3],[246.3,-.45,3],[249.2,-.05,1],[253.9,-.56,3],[255.3,-.54,3],[256.7,-.59,3],[257.3,-.55,3],[258.2,-.64,3],[258.8,-.52,3],[260.2,-.45,3],[261.1,-.59,3],[261.7,-.5,3],[262.5,-.61,3],[263.1,-.43,3],[263.7,-.54,3],[264.5,-.48,3],[265.4,-.36,3],[266,-.52,3],[266.9,-.32,3],[267.4,-.45,3],[268.3,-.38,3],[268.9,-.27,3],[269.7,-.5,3],[270.3,-.22,3],[271.2,-.43,3],[271.8,-.11,3],[272.3,0,3],[273.2,-.36,3],[274.6,.14,3],[277.5,-.36,1],[260.2,-.9,1],[264.5,-.71,1],[268.3,-.89,1],
[283.3,-.27,3],[284.2,-.22,3],[284.8,-.38,3],[285.6,-.29,3],[286.2,-.36,3],[287.6,-.25,3],[288.5,-.18,3],[289.1,-.32,3],[289.7,-.11,3],[290.5,-.22,3],[291.4,-.04,3],[292,-.16,3],[292.6,.07,1],[293.4,-.09,3],[294.3,0,3],[294.9,-.09,3],[295.4,-.04,3],[296.3,.1,3],[297.7,-.18,3],[298.3,-.16,3],[299.2,-.06,3],[300.6,.12,3],[287,-.61,1],[292,-1.08,1],[282.7,-1.28,1],[306.4,-.47,1],[264.5,.46,3],[268.9,.03,1],[270.3,-.09,1],[274.1,.15,3],[281,.18,3],[281.9,.3,3],[287.6,.4,3],[289.1,.61,3],[292,.61,3],[292.6,.46,3],[297.7,.36,3],[300.1,.46,3],[302.1,.37,3],[305,.69,3],[305.8,.71,3],[306.4,.55,3],[307.3,.39,1],[307.9,.28,3],[308.1,1.01,1],[309.3,.97,3],[310.7,.64,3],[312.8,.49,1],[316,.91,3],[316.5,.68,3],[319.4,.58,3],[323.2,.81,3],[326.6,.87,3],[328.1,1.15,3],[329,.42,3],[329.5,.38,3],[333.9,.92,3],[333.9,.8,3],[334.7,.74,3],[334.7,.17,3],[335.3,1.03,3],[342.5,.39,1],[342.5,.23,3],[343.4,.16,3],[343.4,.1,1],[344,.05,3],[345.4,.1,3],[346.9,.07,3],[347.4,1.21,3],[348.3,.87,1],[348.9,-.36,1],[349.8,0,3],[350.3,-.06,3],[351.2,.19,3],[352.1,.1,3],[353.2,.26,3],[354.1,.19,3],[354.9,.3,3],[355.5,.14,3],[356.1,.28,3],[357,.87,3],[357.8,.83,3],[357,.33,3],[357.8,1.03,3],[355.5,1.13,1],[357,-.86,1],[334.7,-1.18,1],[338.8,1.66,3],[296.3,1.56,3],[297.7,1.32,1],[288.5,1.25,3],[289.7,1.17,3],[267.4,1.26,1],[261.7,1.1,3],[260.2,1.03,1],[268.9,1.15,1],[257.3,1.76,3],[257.9,1.69,1],[292,1.69,1],
[5.2,-2.06,1],[36.4,-2,1],[73.6,-2.51,1],[216.6,-1.58,1],[260.8,-2.06,1],[267.7,-2.72,1]
];

// ---- layout ----
const W = 1450, H = 1099;
const colDate = [111.5, 981.5], colBaz = [1021, 1436.5];
const rows = [[31, 468], [574.5, 1012.5]];
const tickFont = "'DejaVu Sans', Verdana, sans-serif";
const bigFont = "Lato, 'Open Sans', sans-serif";

const parseDay = d3.utcParse("%Y-%m-%d");
const t0 = parseDay(startDay), t1 = parseDay(endDay);
const monthTicks = d3.utcMonth.range(t0, d3.utcMonth.offset(t1, 1));
const radius = d3.scaleOrdinal().domain([1, 2, 3]).range([1.3, 2.3, 3.4]);

const svg = d3.select("#container").append("svg")
    .attr("width", W).attr("height", H)
    .style("background", "#fff");

function styleAxis(sel) {
    sel.select(".domain").remove();
    sel.selectAll(".tick line").attr("stroke", "#000");
    sel.selectAll(".tick text").attr("fill", "#000")
        .style("font-family", tickFont).style("font-size", "13.5px");
}

function drawPanel(row, kind, data) {
    const [y0, y1] = rows[row];
    const [x0, x1] = kind === "date" ? colDate : colBaz;
    const x = kind === "date"
        ? d3.scaleUtc().domain([t0, t1]).range([x0, x1])
        : d3.scaleLinear().domain([0, 360]).range([x0, x1]);
    const y = d3.scaleLinear().domain([-3, 3]).range([y1, y0]);
    const xv = kind === "date" ? d => x(d3.utcDay.offset(t0, d[0])) : d => x(d[0]);

    const clipId = `clip-${kind}-${row}`;
    svg.append("clipPath").attr("id", clipId)
        .append("rect").attr("x", x0).attr("y", y0).attr("width", x1 - x0).attr("height", y1 - y0);

    const g = svg.append("g");
    const plot = g.append("g").attr("clip-path", `url(#${clipId})`);

    if (kind === "date") {
        plot.append("line")
            .attr("x1", x0).attr("x2", x1).attr("y1", y(0)).attr("y2", y(0))
            .attr("stroke", "#000").attr("stroke-width", 1).attr("stroke-dasharray", "7,5");
    }

    plot.selectAll("circle").data(data).enter().append("circle")
        .attr("cx", xv)
        .attr("cy", d => y(d[1]))
        .attr("r", d => radius(d[2]))
        .attr("fill", "#000");

    // y axes, ticks pointing inwards
    g.append("g").attr("transform", `translate(${x0},0)`)
        .call(d3.axisLeft(y).tickValues(resTicks).tickFormat(d3.format("d"))
            .tickSizeInner(-5).tickSizeOuter(0).tickPadding(5))
        .call(styleAxis);
    g.append("g").attr("transform", `translate(${x1},0)`)
        .call(d3.axisRight(y).tickValues(resTicks).tickSizeInner(-5).tickSizeOuter(0).tickFormat(""))
        .call(styleAxis);

    // x axes
    let bottom, top;
    if (kind === "date") {
        bottom = d3.axisBottom(x).tickValues(monthTicks).tickFormat(d3.utcFormat("%Y/%m"));
        top = d3.axisTop(x).tickValues(monthTicks).tickFormat("");
    } else {
        bottom = d3.axisBottom(x).tickValues(bazTicks).tickFormat(d => d % 60 === 0 ? d : "");
        top = d3.axisTop(x).tickValues(bazTicks).tickFormat("");
    }
    const bx = g.append("g").attr("transform", `translate(0,${y1})`)
        .call(bottom.tickSizeInner(-5).tickSizeOuter(0).tickPadding(5))
        .call(styleAxis);
    g.append("g").attr("transform", `translate(0,${y0})`)
        .call(top.tickSizeInner(-5).tickSizeOuter(0))
        .call(styleAxis);

    if (kind === "date") {
        bx.selectAll(".tick text")
            .attr("y", 0).attr("dy", 0)
            .attr("text-anchor", "end")
            .attr("transform", "translate(-3,17) rotate(-30)");
    }

    g.append("rect")
        .attr("x", x0).attr("y", y0).attr("width", x1 - x0).attr("height", y1 - y0)
        .attr("fill", "none").attr("stroke", "#000").attr("stroke-width", 1);

    // axis labels
    if (kind === "date") {
        g.append("text").text(channels[row])
            .attr("x", (x0 + x1) / 2).attr("y", y0 - 8)
            .attr("text-anchor", "middle")
            .style("font-family", tickFont).style("font-size", "16.5px");
        g.append("text").text("pick")
            .attr("transform", `translate(78,${(y0 + y1) / 2}) rotate(-90)`)
            .attr("text-anchor", "middle")
            .style("font-family", tickFont).style("font-size", "13.5px");
        g.append("text").text(stations[row])
            .attr("x", 162).attr("y", y0 + 64)
            .attr("textLength", 190).attr("lengthAdjust", "spacingAndGlyphs")
            .style("font-family", bigFont).style("font-weight", "bold").style("font-size", "42px");
        g.append("text").text("absolute time residues [s]")
            .attr("transform", `translate(50,${(y0 + y1) / 2 + 4}) rotate(-90)`)
            .attr("text-anchor", "middle")
            .attr("textLength", 446).attr("lengthAdjust", "spacingAndGlyphs")
            .style("font-family", bigFont).style("font-size", "40px");
    } else {
        g.append("text").text("baz")
            .attr("x", (x0 + x1) / 2).attr("y", y1 + 36)
            .attr("text-anchor", "middle")
            .style("font-family", tickFont).style("font-size", "13.5px");
    }
}

drawPanel(0, "date", a076Date);
drawPanel(0, "baz", a076Baz);
drawPanel(1, "date", a291Date);
drawPanel(1, "baz", a291Baz);

// big figure labels
svg.append("text").text("date")
    .attr("x", 527).attr("y", 1089)
    .attr("text-anchor", "middle")
    .attr("textLength", 87).attr("lengthAdjust", "spacingAndGlyphs")
    .style("font-family", bigFont).style("font-size", "41px");
svg.append("text").text("back-azimuth [deg]")
    .attr("x", 1230).attr("y", 1087)
    .attr("text-anchor", "middle")
    .attr("textLength", 370).attr("lengthAdjust", "spacingAndGlyphs")
    .style("font-family", bigFont).style("font-size", "40px");
</script>
</body>
</html>
